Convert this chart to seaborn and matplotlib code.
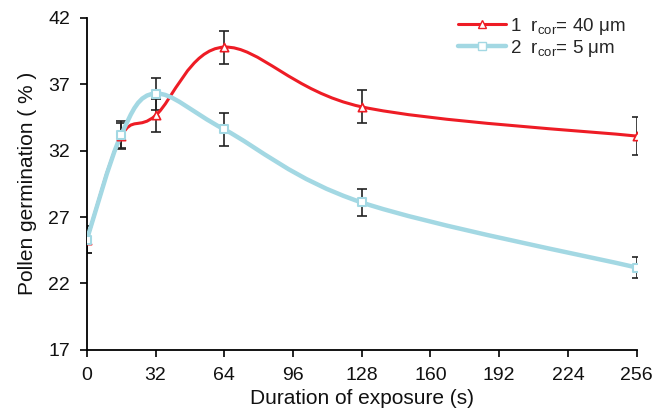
import numpy as np
import pandas as pd
import matplotlib
matplotlib.use("Agg")
import matplotlib.pyplot as plt
import seaborn as sns
from matplotlib.path import Path
from matplotlib.patches import PathPatch
from matplotlib.lines import Line2D

# Data
duration = [0, 16, 32, 64, 128, 256]
germ_40 = [25.3, 33.1, 34.65, 39.8, 35.3, 33.1]
err_40 = [1.0, 1.0, 1.25, 1.25, 1.25, 1.4]
germ_5 = [25.3, 33.2, 36.3, 33.6, 28.1, 23.2]
err_5 = [1.0, 1.0, 1.2, 1.25, 1.0, 0.8]

labels = ["1  $\\mathregular{r_{cor}}$= 40 \u03bcm", "2  $\\mathregular{r_{cor}}$= 5 \u03bcm"]
x_ticks = [0, 32, 64, 96, 128, 160, 192, 224, 256]
y_ticks = [17, 22, 27, 32, 37, 42]

RED = "#ee1c25"
CYAN = "#a3d8e3"

sns.set_style("ticks")
plt.rcParams["font.family"] = ["Liberation Sans", "DejaVu Sans"]
plt.rcParams["mathtext.default"] = "regular"

df = pd.DataFrame({
    "duration": duration * 2,
    "germ": germ_40 + germ_5,
    "err": err_40 + err_5,
    "series": [labels[0]] * len(duration) + [labels[1]] * len(duration),
})


def smooth_path(xs, ys):
    # Catmull-Rom -> cubic Bezier (Excel-like smoothed line)
    pts = np.column_stack([xs, ys]).astype(float)
    ext = np.vstack([pts[0], pts, pts[-1]])
    verts = [pts[0]]
    codes = [Path.MOVETO]
    for i in range(1, len(ext) - 2):
        p0, p1, p2, p3 = ext[i - 1], ext[i], ext[i + 1], ext[i + 2]
        c1 = p1 + (p2 - p0) / 6.0
        c2 = p2 - (p3 - p1) / 6.0
        verts += [c1, c2, p2]
        codes += [Path.CURVE4] * 3
    return Path(verts, codes)


fig = plt.figure(figsize=(6.53, 4.16), dpi=100)
ax = fig.add_axes([0.133, 0.159, 0.842, 0.798])

# error bars
ax.errorbar(df["duration"], df["germ"], yerr=df["err"], fmt="none",
            ecolor="#222222", elinewidth=1.2, capsize=3.5, capthick=1.2,
            zorder=2)

# smoothed lines
ax.add_patch(PathPatch(smooth_path(duration, germ_40), fill=False,
                       edgecolor=RED, lw=2.2, zorder=3))
ax.add_patch(PathPatch(smooth_path(duration, germ_5), fill=False,
                       edgecolor=CYAN, lw=3.2, zorder=4))

# markers
sns.scatterplot(data=df[df["series"] == labels[0]], x="duration", y="germ",
                marker="^", s=36, color="white", edgecolor=RED, linewidth=1.2,
                ax=ax, zorder=5, legend=False)
sns.scatterplot(data=df[df["series"] == labels[1]], x="duration", y="germ",
                marker="s", s=36, color="white", edgecolor=CYAN, linewidth=1.5,
                ax=ax, zorder=6, legend=False)

ax.set_xlim(0, 256)
ax.set_ylim(17, 42)
ax.set_xticks(x_ticks)
ax.set_yticks(y_ticks)
ax.tick_params(axis="both", labelsize=14, length=5, width=1.2, color="black",
               labelcolor="#111111", pad=7)
for s in ["left", "bottom"]:
    ax.spines[s].set_linewidth(1.3)
    ax.spines[s].set_color("black")
sns.despine(ax=ax)

ax.set_xlabel("Duration of exposure (s)", fontsize=15, labelpad=4,
              color="#111111")
ax.set_ylabel("Pollen germination ( % )", fontsize=15, labelpad=8,
              color="#111111")

handles = [
    Line2D([], [], color=RED, lw=2.2, marker="^", markersize=6,
           markerfacecolor="white", markeredgecolor=RED),
    Line2D([], [], color=CYAN, lw=3.2, marker="s", markersize=6,
           markerfacecolor="white", markeredgecolor=CYAN),
]
ax.legend(handles, labels, loc="upper right", bbox_to_anchor=(1.0, 1.04),
          frameon=False, fontsize=13.5, handlelength=2.6, handletextpad=0.2,
          labelspacing=0.05, borderaxespad=0.2)

fig.savefig("out.png", dpi=100)
